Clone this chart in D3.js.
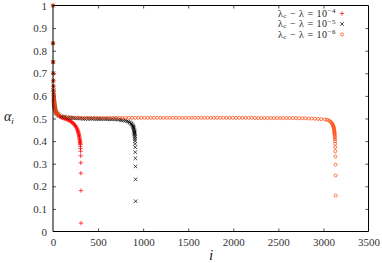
<!DOCTYPE html>
<html><head><meta charset="utf-8">
<script src="https://cdn.jsdelivr.net/npm/d3@7"></script>
<style>
html,body{margin:0;padding:0;background:#fff;}
svg{display:block;font-family:"Liberation Serif","DejaVu Serif",serif;}
</style></head>
<body>
<svg id="c" width="382" height="263"></svg>
<script>
// ---- data ----
const xTickValues = [0,500,1000,1500,2000,2500,3000,3500];
const yTickValues = [0,0.1,0.2,0.3,0.4,0.5,0.6,0.7,0.8,0.9,1];
const yTickLabels = ["0","0.1","0.2","0.3","0.4","0.5","0.6","0.7","0.8","0.9","1"];
const seriesNames = ["−4","−5","−6"];

// lambda_c - lambda = 1e-4 (red +)
const redI = [0,1,2,3,4,5,6,7,8,9,10,11,12,13,14,15,16,18,20,23,26,30,35,40,46,53,60,68,76,85,95,105,115,125,135,145,155,165,175,185,195,205,214,223,231,238,245,251,257,262,267,271,275,278,281,284,287,289,291,293,295,297,299,300,301,302,303,304,305,306,307,308,309,310,311];
const redA = [1.000,0.833,0.750,0.700,0.667,0.643,0.625,0.611,0.600,0.591,0.583,0.577,0.571,0.567,0.562,0.559,0.556,0.549,0.544,0.539,0.535,0.530,0.526,0.522,0.519,0.516,0.514,0.511,0.509,0.507,0.505,0.503,0.502,0.500,0.499,0.497,0.496,0.494,0.492,0.490,0.488,0.485,0.482,0.479,0.476,0.473,0.469,0.466,0.462,0.458,0.454,0.450,0.446,0.442,0.438,0.434,0.429,0.425,0.421,0.417,0.412,0.407,0.402,0.398,0.394,0.390,0.385,0.377,0.367,0.355,0.335,0.304,0.258,0.181,0.037];

// lambda_c - lambda = 1e-5 (black x)
const blackI = [0,1,2,3,4,5,6,7,8,9,10,11,12,13,14,15,16,18,20,23,26,30,35,40,46,53,60,70,90,110,130,150,170,190,210,230,250,270,290,310,330,350,370,390,410,430,450,470,490,510,530,550,570,590,610,630,650,670,690,710,730,750,762,782,802,822,837,850,860,868,875,881,886,890,893,896,898,900,902,903,904,905,906,907,908,909,910,911,912,913,914,915,916,917];
const blackA = [1.000,0.833,0.750,0.700,0.667,0.643,0.625,0.611,0.600,0.591,0.583,0.577,0.571,0.567,0.562,0.559,0.556,0.550,0.545,0.540,0.536,0.531,0.527,0.524,0.521,0.518,0.516,0.513,0.510,0.508,0.507,0.505,0.504,0.503,0.502,0.502,0.501,0.501,0.500,0.500,0.499,0.499,0.499,0.499,0.499,0.499,0.499,0.498,0.498,0.498,0.498,0.498,0.498,0.498,0.497,0.497,0.497,0.497,0.497,0.496,0.495,0.494,0.493,0.492,0.490,0.488,0.486,0.483,0.480,0.477,0.474,0.470,0.467,0.463,0.460,0.456,0.452,0.448,0.443,0.440,0.437,0.433,0.429,0.423,0.417,0.409,0.400,0.388,0.373,0.351,0.324,0.288,0.231,0.134];

// lambda_c - lambda = 1e-6 (orange circles)
const orangeI = [0,1,2,3,4,5,6,7,8,9,10,11,12,13,14,15,16,18,20,23,26,30,35,40,46,53,60,70,
  105,140,175,210,245,280,
  315,350,385,420,455,490,525,560,595,630,
  665,700,735,770,805,840,875,910,945,980,
  1015,1050,1085,1120,1155,1190,1225,1260,1295,1330,
  1365,1400,1435,1470,1505,1540,1575,1610,1645,1680,
  1715,1750,1785,1820,1855,1890,1925,1960,1995,2030,
  2065,2100,2135,2170,2205,
  2240,2275,2310,2345,2380,2415,2450,2485,2520,2555,2590,2625,2660,2695,
  2730,2765,2800,2835,2870,2905,2940,2975,
  3016,3041,3061,3076,3086,3094,3100,3105,3109,3112,3115,3117,3119,3121,
  3122,3123,3124,3125,3126,3127,3128,3129,3130,3131,3132,3133,3134,3135,3136];
const orangeA = [1.000,0.833,0.750,0.700,0.667,0.643,0.625,0.611,0.600,0.591,0.583,0.577,0.571,0.567,0.562,0.559,0.556,0.550,0.545,0.540,0.536,0.531,0.527,0.524,0.521,0.518,0.516,0.514,
  0.509,0.507,0.506,0.505,0.504,0.504,
  0.503,0.503,0.503,0.503,0.503,0.503,0.503,0.503,0.503,0.503,
  0.503,0.503,0.503,0.503,0.503,0.503,0.503,0.503,0.503,0.503,
  0.503,0.503,0.503,0.503,0.503,0.503,0.503,0.503,0.503,0.503,
  0.503,0.503,0.503,0.503,0.503,0.503,0.503,0.503,0.503,0.503,
  0.503,0.503,0.503,0.503,0.503,0.503,0.503,0.503,0.503,0.503,
  0.503,0.503,0.503,0.503,0.503,
  0.502,0.502,0.502,0.502,0.502,0.502,0.502,0.502,0.502,0.502,0.502,0.502,0.502,0.502,
  0.501,0.501,0.501,0.500,0.500,0.499,0.498,0.497,
  0.496,0.494,0.491,0.487,0.483,0.479,0.475,0.471,0.467,0.463,0.459,0.455,0.450,0.444,
  0.441,0.438,0.433,0.429,0.423,0.417,0.409,0.400,0.388,0.373,0.355,0.332,0.296,0.248,0.159];

// ---- drawing ----
const svg = d3.select("#c");
const L = 53, R = 368.5, T = 5.5, B = 231.5;
const x = d3.scaleLinear().domain([0,3500]).range([L,R]);
const y = d3.scaleLinear().domain([0,1]).range([B,T]);
const tickCol = "#222";
const serif = '"Liberation Serif","DejaVu Serif",serif';

const gx = svg.append("g").attr("transform",`translate(0,${B})`)
  .call(d3.axisBottom(x).tickValues(xTickValues).tickFormat(d3.format("d")).tickSizeInner(-3).tickSizeOuter(0).tickPadding(7));
const gxt = svg.append("g").attr("transform",`translate(0,${T})`)
  .call(d3.axisTop(x).tickValues(xTickValues).tickFormat("").tickSizeInner(-3).tickSizeOuter(0));
const gy = svg.append("g").attr("transform",`translate(${L},0)`)
  .call(d3.axisLeft(y).tickValues(yTickValues).tickFormat((d,i)=>yTickLabels[i]).tickSizeInner(-3).tickSizeOuter(0).tickPadding(6));
const gyr = svg.append("g").attr("transform",`translate(${R},0)`)
  .call(d3.axisRight(y).tickValues(yTickValues).tickFormat("").tickSizeInner(-3).tickSizeOuter(0));
[gx,gxt,gy,gyr].forEach(g=>{
  g.attr("font-family",serif);
  g.select(".domain").remove();
  g.selectAll("line").attr("stroke",tickCol).attr("stroke-width",0.8);
  g.selectAll("text").attr("fill","#333").style("font-family",serif).style("font-size","11px");
});
gx.selectAll(".tick").filter(d=>d===0||d===3500).select("line").remove();
gxt.selectAll(".tick").filter(d=>d===0||d===3500).select("line").remove();
gy.selectAll(".tick").filter(d=>d===0||d===1).select("line").remove();
gyr.selectAll(".tick").filter(d=>d===0||d===1).select("line").remove();

const plot = svg.append("g");
function toPts(I,A){ return I.map((v,k)=>({i:v,a:A[k]})).filter(d=>d.a!==undefined); }

plot.append("g").selectAll("path").data(toPts(redI,redA)).join("path")
  .attr("d",d=>{const px=x(d.i),py=y(d.a);return `M${px-2.2},${py}h4.4M${px},${py-2.2}v4.4`;})
  .attr("stroke","#ff0000").attr("stroke-width",0.7).attr("fill","none");
plot.append("g").selectAll("path").data(toPts(blackI,blackA)).join("path")
  .attr("d",d=>{const px=x(d.i),py=y(d.a);return `M${px-1.8},${py-1.8}l3.6,3.6M${px-1.8},${py+1.8}l3.6,-3.6`;})
  .attr("stroke","#000").attr("stroke-width",0.7).attr("fill","none");
plot.append("g").selectAll("circle").data(toPts(orangeI,orangeA)).join("circle")
  .attr("cx",d=>x(d.i)).attr("cy",d=>y(d.a)).attr("r",1.5)
  .attr("stroke","#ff4a10").attr("stroke-width",0.75).attr("fill","none");

svg.append("path").attr("d",`M${L},${T}H${R}V${B}H${L}Z`).attr("fill","none").attr("stroke","#000").attr("stroke-width",1);

const ylab = svg.append("text").attr("x",4).attr("y",121).style("font-size","14px").style("font-style","italic").attr("fill","#222");
ylab.append("tspan").text("α");
ylab.append("tspan").attr("dy",3).style("font-size","9px").text("i");
svg.append("text").attr("x",211).attr("y",260).attr("text-anchor","middle").style("font-size","15px").style("font-style","italic").attr("fill","#222").text("i");

const legY = [13.5,24,34.5];
const legCol = ["#ff0000","#000","#ff4a10"];
const lg = svg.append("g");
seriesNames.forEach((s,k)=>{
  const t = lg.append("text").attr("x",336).attr("y",legY[k]+3.2).attr("text-anchor","end")
    .style("font-size","10px").style("letter-spacing","0.5px").attr("fill","#222");
  t.append("tspan").text("λ");
  t.append("tspan").attr("dy",1.2).style("font-size","7px").text("c");
  t.append("tspan").attr("dy",-1.2).text(" − λ = 10");
  t.append("tspan").attr("dy",-3.4).style("font-size","7px").text(s);
  const px=342, py=legY[k];
  if(k===0) lg.append("path").attr("d",`M${px-2.2},${py}h4.4M${px},${py-2.2}v4.4`).attr("stroke",legCol[k]).attr("stroke-width",0.7);
  if(k===1) lg.append("path").attr("d",`M${px-1.8},${py-1.8}l3.6,3.6M${px-1.8},${py+1.8}l3.6,-3.6`).attr("stroke",legCol[k]).attr("stroke-width",0.7);
  if(k===2) lg.append("circle").attr("cx",px).attr("cy",py).attr("r",1.5).attr("fill","none").attr("stroke",legCol[k]).attr("stroke-width",0.75);
});
</script>
</body></html>
